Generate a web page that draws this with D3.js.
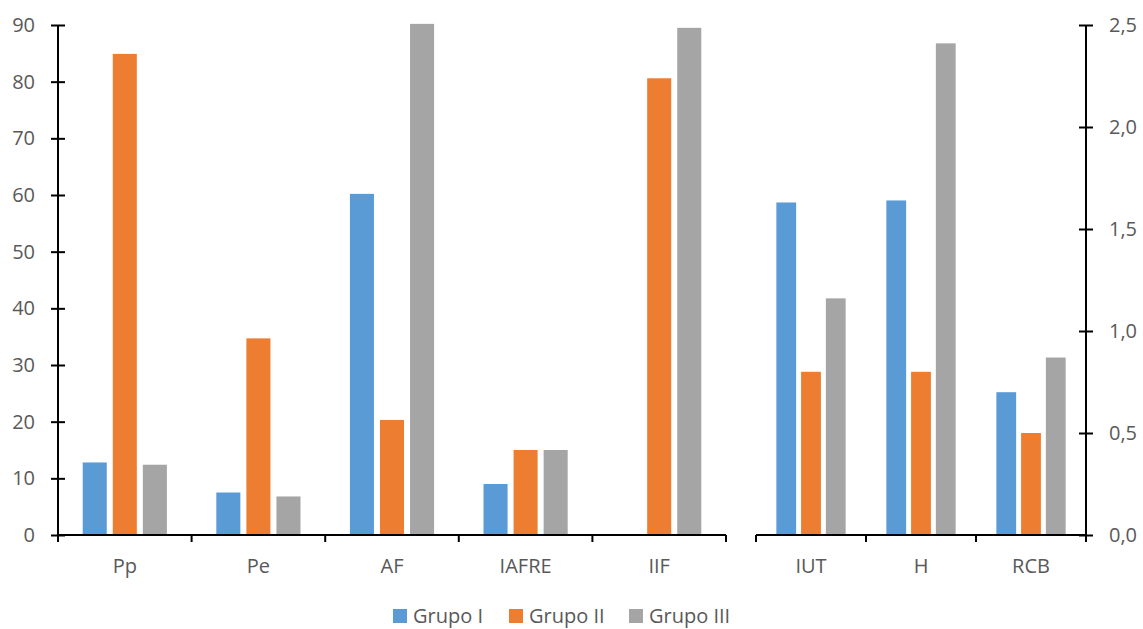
<!DOCTYPE html>
<html>
<head>
<meta charset="utf-8">
<script src="https://cdn.jsdelivr.net/npm/d3@7"></script>
<style>
  body { margin: 0; background: #fff; }
  text { font-family: "Open Sans", sans-serif; fill: #595959; }
</style>
</head>
<body>
<script>
// values
var series = ["Grupo I", "Grupo II", "Grupo III"];
var colors = ["#5B9BD5", "#ED7D31", "#A5A5A5"];

var catsLeft = ["Pp", "Pe", "AF", "IAFRE", "IIF"];
var grupoILeft = [12.8, 7.5, 60.2, 9.0, 0];
var grupoIILeft = [84.9, 34.7, 20.3, 15.0, 80.6];
var grupoIIILeft = [12.4, 6.8, 90.2, 15.0, 89.5];

var catsRight = ["IUT", "H", "RCB"];
var grupoIRight = [1.63, 1.64, 0.70];
var grupoIIRight = [0.80, 0.80, 0.50];
var grupoIIIRight = [1.16, 2.41, 0.87];

var ticksLeft = [0, 10, 20, 30, 40, 50, 60, 70, 80, 90];
var ticksRight = [0, 0.5, 1, 1.5, 2, 2.5];

var width = 1143, height = 629;
var plotTop = 25, plotBottom = 535;

var svg = d3.select("body").append("svg")
    .attr("width", width)
    .attr("height", height);

var yLeft = d3.scaleLinear().domain([0, 90]).range([plotBottom, plotTop]);
var yRight = d3.scaleLinear().domain([0, 2.5]).range([plotBottom, plotTop]);

var fmtComma = function(d){ return d3.format(".1f")(d).replace(".", ","); };

function panel(cats, vals, y, x0, x1){
  var x = d3.scaleBand().domain(cats).range([x0, x1]).padding(0);
  var bw = x.bandwidth();
  var xs = d3.scaleBand().domain(series)
      .range([0.185 * bw, 0.815 * bw])
      .paddingInner(0.2).paddingOuter(0);

  var rows = cats.map(function(c, i){
    return series.map(function(s, j){ return {cat: c, s: s, v: vals[j][i], color: colors[j]}; });
  });

  var g = svg.append("g");
  g.selectAll("g.cat")
    .data(rows)
    .enter().append("g")
    .attr("class", "cat")
    .attr("transform", function(d){ return "translate(" + x(d[0].cat) + ",0)"; })
    .selectAll("rect")
    .data(function(d){ return d.filter(function(e){ return e.v > 0; }); })
    .enter().append("rect")
    .attr("x", function(d){ return xs(d.s); })
    .attr("width", xs.bandwidth())
    .attr("y", function(d){ return y(d.v); })
    .attr("height", function(d){ return y(0) - y(d.v); })
    .attr("fill", function(d){ return d.color; });

  // category axis
  g.append("line")
    .attr("x1", x0).attr("x2", x1)
    .attr("y1", plotBottom).attr("y2", plotBottom)
    .attr("stroke", "#000").attr("stroke-width", 2);
  var edges = cats.map(function(c){ return x(c); }).concat([x1]);
  g.selectAll("line.tk")
    .data(edges)
    .enter().append("line")
    .attr("class", "tk")
    .attr("x1", function(d){ return d; }).attr("x2", function(d){ return d; })
    .attr("y1", plotBottom).attr("y2", plotBottom + 7)
    .attr("stroke", "#000").attr("stroke-width", 2);
  g.selectAll("text.cl")
    .data(cats)
    .enter().append("text")
    .attr("class", "cl")
    .attr("x", function(c){ return x(c) + bw / 2; })
    .attr("y", 573)
    .attr("text-anchor", "middle")
    .attr("font-size", 20)
    .text(function(c){ return c; });
}

panel(catsLeft, [grupoILeft, grupoIILeft, grupoIIILeft], yLeft, 58, 726);
panel(catsRight, [grupoIRight, grupoIIRight, grupoIIIRight], yRight, 756, 1086);

// left value axis
var axL = svg.append("g").attr("transform", "translate(58,0)")
    .call(d3.axisLeft(yLeft).tickValues(ticksLeft).tickSize(7).tickPadding(16));
axL.selectAll(".tick line").attr("x2", 7).attr("x1", -7);
// right value axis
var axR = svg.append("g").attr("transform", "translate(1086,0)")
    .call(d3.axisRight(yRight).tickValues(ticksRight).tickFormat(fmtComma).tickSize(7).tickPadding(16));
axR.selectAll(".tick line").attr("x1", -7).attr("x2", 7);

[axL, axR].forEach(function(ax){
  ax.select(".domain").attr("stroke", "#000").attr("stroke-width", 2)
    .attr("d", "M0," + plotBottom + "V" + plotTop);
  ax.selectAll(".tick line").attr("stroke", "#000").attr("stroke-width", 2);
  ax.selectAll(".tick text")
    .attr("font-size", 20)
    .attr("font-family", "'Open Sans', sans-serif")
    .attr("fill", "#595959");
});

// legend
var legX = [393, 509, 629];
var leg = svg.append("g").selectAll("g")
    .data(series)
    .enter().append("g")
    .attr("transform", function(d, i){ return "translate(" + legX[i] + ",609)"; });
leg.append("rect")
    .attr("width", 14).attr("height", 14)
    .attr("fill", function(d, i){ return colors[i]; });
leg.append("text")
    .attr("x", 20).attr("y", 14)
    .attr("font-size", 20)
    .text(function(d){ return d; });
</script>
</body>
</html>
